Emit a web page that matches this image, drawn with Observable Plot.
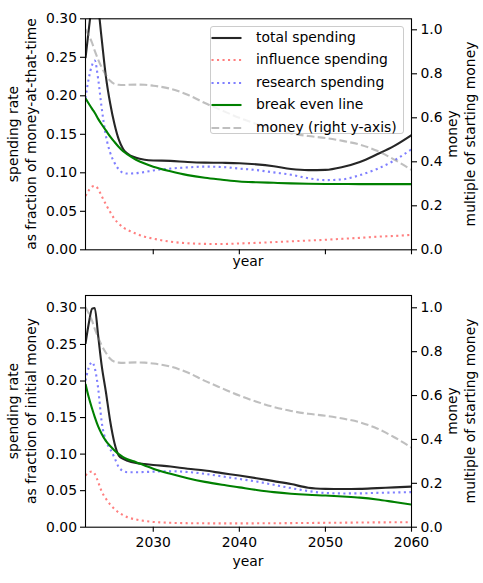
<!DOCTYPE html>
<html><head><meta charset="utf-8">
<script src="https://cdn.jsdelivr.net/npm/d3@7"></script>
<script src="https://cdn.jsdelivr.net/npm/@observablehq/plot@0.6"></script>
<style>
body{margin:0;background:#fff;}
#wrap{position:relative;width:483px;height:583px;font-family:"DejaVu Sans",sans-serif;font-size:13.9px;color:#000;overflow:hidden;}
#wrap svg{position:absolute;left:0;}
.lbl{position:absolute;white-space:nowrap;line-height:1;transform:translate(-50%,-50%);}
.rot{transform:translate(-50%,-50%) rotate(-90deg);}
.legend{position:absolute;box-sizing:border-box;border:1px solid #cccccc;border-radius:3px;background:rgba(255,255,255,0.8);}
.legend .row{position:absolute;left:0;height:20px;width:100%;}
.legend .row svg{position:absolute;left:4px;top:5px;}
.legend .row span{position:absolute;left:45px;top:50%;transform:translateY(-50%);line-height:1;white-space:nowrap;}
</style></head><body><div id="wrap"></div>
<script>
// ---- data ----
const years = [2022.13, 2022.5, 2022.9, 2023.2, 2023.6, 2024, 2024.5, 2025, 2025.5, 2026, 2026.5, 2027, 2028, 2029, 2030, 2032, 2034, 2036, 2038, 2040, 2042, 2044, 2046, 2048, 2050, 2052, 2054, 2056, 2058, 2060];

// top panel: spending rate as fraction of money-at-that-time
const topTotal     = [0.249, 0.285, 0.320, 0.330, 0.315, 0.275, 0.225, 0.190, 0.163, 0.143, 0.131, 0.125, 0.1195, 0.117, 0.116, 0.1155, 0.114, 0.1132, 0.113, 0.1125, 0.111, 0.1085, 0.105, 0.1035, 0.1038, 0.1075, 0.114, 0.124, 0.135, 0.149];
const topInfluence = [0.070, 0.077, 0.082, 0.083, 0.079, 0.070, 0.059, 0.049, 0.040, 0.034, 0.029, 0.026, 0.021, 0.017, 0.0145, 0.0105, 0.0085, 0.0077, 0.0075, 0.0082, 0.009, 0.010, 0.011, 0.012, 0.013, 0.0143, 0.0155, 0.017, 0.018, 0.0194];
const topResearch  = [0.197, 0.222, 0.240, 0.2457, 0.222, 0.185, 0.148, 0.126, 0.113, 0.1045, 0.100, 0.099, 0.0995, 0.101, 0.103, 0.1055, 0.107, 0.108, 0.1075, 0.1055, 0.1035, 0.1005, 0.0975, 0.093, 0.0905, 0.0915, 0.097, 0.105, 0.116, 0.1306];
const topBreakEven = [0.1966, 0.190, 0.183, 0.178, 0.170, 0.163, 0.155, 0.147, 0.140, 0.1335, 0.128, 0.124, 0.117, 0.112, 0.108, 0.102, 0.097, 0.0935, 0.091, 0.0887, 0.0877, 0.087, 0.0863, 0.0858, 0.0855, 0.0854, 0.0853, 0.0853, 0.0853, 0.0853];

// bottom panel: spending rate as fraction of initial money
const botTotal     = [0.251, 0.278, 0.299, 0.300, 0.262, 0.222, 0.185, 0.145, 0.115, 0.098, 0.0935, 0.091, 0.088, 0.0865, 0.0852, 0.083, 0.080, 0.0775, 0.074, 0.0707, 0.067, 0.063, 0.059, 0.054, 0.0525, 0.0522, 0.0525, 0.0535, 0.0545, 0.0555];
const botInfluence = [0.0707, 0.075, 0.0762, 0.073, 0.062, 0.049, 0.039, 0.031, 0.025, 0.020, 0.0165, 0.0137, 0.0105, 0.0085, 0.0072, 0.006, 0.0055, 0.0053, 0.0052, 0.0052, 0.0053, 0.0054, 0.0056, 0.0058, 0.006, 0.0062, 0.0064, 0.0066, 0.0067, 0.0068];
const botResearch  = [0.2006, 0.218, 0.2257, 0.218, 0.190, 0.145, 0.118, 0.107, 0.095, 0.082, 0.077, 0.0752, 0.0752, 0.0755, 0.076, 0.0766, 0.0755, 0.073, 0.0695, 0.066, 0.0625, 0.058, 0.0535, 0.0495, 0.0468, 0.0462, 0.0463, 0.047, 0.0475, 0.048];
const botBreakEven = [0.196, 0.178, 0.162, 0.151, 0.138, 0.128, 0.118, 0.111, 0.105, 0.100, 0.096, 0.093, 0.089, 0.0845, 0.080, 0.073, 0.067, 0.062, 0.058, 0.0545, 0.051, 0.048, 0.0458, 0.0443, 0.0433, 0.042, 0.0405, 0.038, 0.0345, 0.031];

// money, multiple of starting money (right y-axis)
const money = [1.003, 0.975, 0.94, 0.905, 0.865, 0.83, 0.795, 0.768, 0.754, 0.75, 0.749, 0.75, 0.751, 0.75, 0.746, 0.732, 0.705, 0.667, 0.633, 0.600, 0.572, 0.548, 0.53, 0.517, 0.508, 0.495, 0.478, 0.45, 0.41, 0.363];

const xTicks = [2030, 2040, 2050, 2060];
const leftTicks = [0, 0.05, 0.10, 0.15, 0.20, 0.25, 0.30];
const rightTicks = [0, 0.2, 0.4, 0.6, 0.8, 1.0];

const seriesNames = ["total spending", "influence spending", "research spending", "break even line", "money (right y-axis)"];
const seriesStyles = [
  {stroke: "black", strokeOpacity: 0.85, dash: null},
  {stroke: "red", strokeOpacity: 0.5, dash: "2.1,3.4"},
  {stroke: "blue", strokeOpacity: 0.5, dash: "2.1,3.4"},
  {stroke: "green", strokeOpacity: 1, dash: null},
  {stroke: "gray", strokeOpacity: 0.5, dash: "7.7,3.3"}
];

const rows = (ys, k = 1) => years.map((year, i) => ({year, v: ys[i] * k}));

function panel({height, mt, mb, yMax, rMax, data, xLabels}) {
  const k = yMax / rMax;
  const all = [...data.map(d => rows(d)), rows(money, k)];
  return Plot.plot({
    width: 483, height,
    marginLeft: 85, marginRight: 72, marginTop: mt, marginBottom: mb,
    x: {domain: [2022.13, 2060]},
    y: {domain: [0, yMax]},
    style: {fontFamily: "DejaVu Sans", fontSize: "13.9px", color: "#000", background: "transparent", overflow: "visible"},
    marks: [
      ...all.map((r, i) => Plot.line(r, {
        x: "year", y: "v", curve: "monotone-x", clip: true,
        stroke: seriesStyles[i].stroke, strokeOpacity: seriesStyles[i].strokeOpacity,
        strokeWidth: 2.1, strokeDasharray: seriesStyles[i].dash || undefined, strokeLinecap: "butt"
      })),
      Plot.frame({stroke: "#000", strokeWidth: 1.1}),
      Plot.axisX({ticks: xTicks, tickFormat: xLabels ? (d => String(d)) : (() => ""), tickSize: 5, tickPadding: 4.5, strokeWidth: 1.1, label: null}),
      Plot.axisY({anchor: "left", ticks: leftTicks, tickFormat: d => d.toFixed(2), tickSize: 5, tickPadding: 3.5, strokeWidth: 1.1, label: null}),
      Plot.axisY({anchor: "right", ticks: rightTicks.map(m => m * k), tickFormat: d => (d / k).toFixed(1), tickSize: 5, tickPadding: 4, strokeWidth: 1.1, label: null})
    ]
  });
}

const wrap = document.getElementById("wrap");
const top1 = panel({height: 280, mt: 18.3, mb: 30.7, yMax: 0.30, rMax: 1.05,
  data: [topTotal, topInfluence, topResearch, topBreakEven], xLabels: false});
top1.style.top = "0px";
wrap.appendChild(top1);
const bot = panel({height: 303, mt: 15, mb: 56.3, yMax: 0.317, rMax: 1.056,
  data: [botTotal, botInfluence, botResearch, botBreakEven], xLabels: true});
bot.style.top = "280px";
wrap.appendChild(bot);

function label(text, x, y, rot) {
  const d = document.createElement("div");
  d.className = "lbl" + (rot ? " rot" : "");
  d.textContent = text;
  d.style.left = x + "px";
  d.style.top = y + "px";
  wrap.appendChild(d);
}
label("year", 248, 261.5, false);
label("year", 248, 561.5, false);
label("spending rate", 13.5, 134, true);
label("as fraction of money-at-that-time", 31.7, 134, true);
label("spending rate", 13.5, 410.8, true);
label("as fraction of initial money", 31.5, 410.8, true);
label("money", 452.5, 133.8, true);
label("multiple of starting money", 471, 133.8, true);
label("money", 452.5, 410.8, true);
label("multiple of starting money", 471, 410.8, true);

// legend
const lg = document.createElement("div");
lg.className = "legend";
lg.style.left = "210px"; lg.style.top = "25.7px"; lg.style.width = "194px"; lg.style.height = "108px";
seriesNames.forEach((name, i) => {
  const r = document.createElement("div");
  r.className = "row";
  r.style.top = (11.3 + i * 22.4 - 10) + "px";
  const s = seriesStyles[i];
  r.innerHTML = `<svg width="32" height="10"><line x1="0.5" x2="30.5" y1="5" y2="5" stroke="${s.stroke}" stroke-opacity="${s.strokeOpacity}" stroke-width="2.1" ${s.dash ? `stroke-dasharray="${s.dash}"` : ""}/></svg><span></span>`;
  r.querySelector("span").textContent = name;
  lg.appendChild(r);
});
wrap.appendChild(lg);
</script></body></html>
